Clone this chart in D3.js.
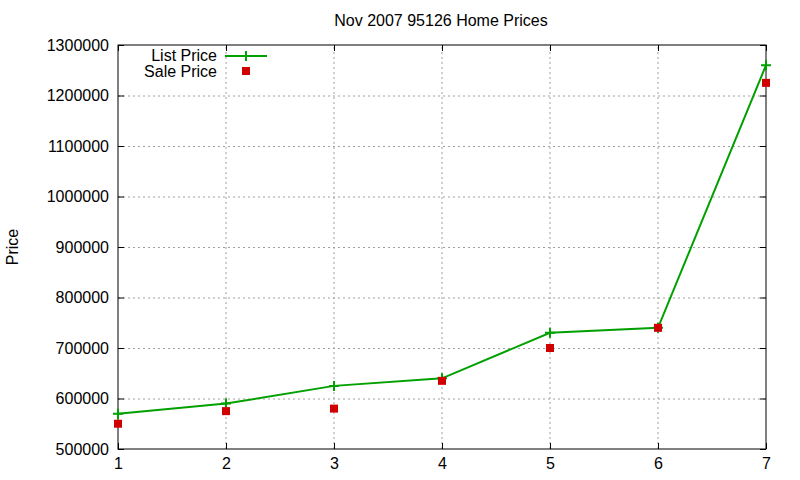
<!DOCTYPE html>
<html>
<head>
<meta charset="utf-8">
<script src="https://cdn.jsdelivr.net/npm/d3@7"></script>
<style>
  body { margin: 0; background: #fff; }
  svg text { font-family: "Liberation Sans", Arial, sans-serif; fill: #000; }
</style>
</head>
<body>
<svg id="chart" width="800" height="480"></svg>
<script>
const xValues = [1, 2, 3, 4, 5, 6, 7];
const listPrice = [570000, 590000, 625000, 640000, 730000, 740000, 1260000];
const salePrice = [550000, 575000, 580000, 635000, 700000, 740000, 1225000];
const yTicks = [500000, 600000, 700000, 800000, 900000, 1000000, 1100000, 1200000, 1300000];

let width = 800;
let height = 480;
let margin = { top: 45, right: 34, bottom: 31, left: 118 };

let svg = d3.select("#chart");

let x = d3.scaleLinear().domain([1, 7]).range([margin.left, width - margin.right]);
let y = d3.scaleLinear().domain([500000, 1300000]).range([height - margin.bottom, margin.top]);

// grid
let grid = svg.append("g");
grid.selectAll(".gx")
  .data(xValues.slice(1, -1))
  .join("line")
  .attr("x1", (d) => x(d)).attr("x2", (d) => x(d))
  .attr("y1", y(500000)).attr("y2", y(1300000))
  .style("stroke", "#a0a0a0").style("stroke-width", 1).style("stroke-dasharray", "2,3");
grid.selectAll(".gy")
  .data(yTicks.slice(1, -1))
  .join("line")
  .attr("x1", x(1)).attr("x2", x(7))
  .attr("y1", (d) => y(d) + 0.5).attr("y2", (d) => y(d) + 0.5)
  .style("stroke", "#a0a0a0").style("stroke-width", 1).style("stroke-dasharray", "2,3");

// axes (ticks inward, mirrored)
let tickLen = 6;
let axisLeft = svg.append("g")
  .attr("transform", `translate(${margin.left},0)`)
  .call(d3.axisLeft(y).tickValues(yTicks).tickFormat(d3.format("d")).tickSize(-tickLen).tickPadding(9));
let axisRight = svg.append("g")
  .attr("transform", `translate(${width - margin.right},0)`)
  .call(d3.axisRight(y).tickValues(yTicks).tickSize(-tickLen).tickFormat(""));
let axisBottom = svg.append("g")
  .attr("transform", `translate(0,${height - margin.bottom})`)
  .call(d3.axisBottom(x).tickValues(xValues).tickFormat(d3.format("d")).tickSize(-tickLen).tickPadding(9));
let axisTop = svg.append("g")
  .attr("transform", `translate(0,${margin.top})`)
  .call(d3.axisTop(x).tickValues(xValues).tickSize(-tickLen).tickFormat(""));

[axisLeft, axisRight, axisBottom, axisTop].forEach((a) => {
  a.attr("font-size", null).attr("font-family", null);
  a.select(".domain").remove();
  a.selectAll("line").style("stroke", "#000");
  a.selectAll("text").style("font-size", "16px");
});

svg.append("rect")
  .attr("x", margin.left).attr("y", margin.top)
  .attr("width", width - margin.left - margin.right)
  .attr("height", height - margin.top - margin.bottom)
  .style("fill", "none").style("stroke", "#000").style("stroke-width", 1);

// title and y label
svg.append("text")
  .attr("x", 441).attr("y", 26)
  .attr("text-anchor", "middle")
  .style("font-size", "16px")
  .text("Nov 2007 95126 Home Prices");

svg.append("text")
  .attr("transform", "translate(18,247) rotate(-90)")
  .attr("text-anchor", "middle")
  .style("font-size", "16px")
  .text("Price");

// list price line
let green = "#00a000";
let red = "#d00000";
let line = d3.line().x((d, i) => x(xValues[i])).y((d) => y(d));
svg.append("path")
  .datum(listPrice)
  .attr("d", line)
  .style("fill", "none").style("stroke", green).style("stroke-width", 2);

function plus(g, cx, cy) {
  g.append("path")
    .attr("d", `M${cx - 5},${cy}H${cx + 5}M${cx},${cy - 5}V${cy + 5}`)
    .style("stroke", green).style("stroke-width", 2);
}
let marks = svg.append("g");
listPrice.forEach((d, i) => plus(marks, x(xValues[i]), y(d)));

svg.append("g")
  .selectAll("rect")
  .data(salePrice)
  .join("rect")
  .attr("x", (d, i) => x(xValues[i]) - 4)
  .attr("y", (d) => y(d) - 4)
  .attr("width", 8).attr("height", 8)
  .style("fill", red);

// legend
let legend = svg.append("g");
legend.append("text").attr("x", 217).attr("y", 61).attr("text-anchor", "end")
  .style("font-size", "16px").text("List Price");
legend.append("text").attr("x", 217).attr("y", 77).attr("text-anchor", "end")
  .style("font-size", "16px").text("Sale Price");
legend.append("line").attr("x1", 225).attr("x2", 267).attr("y1", 56).attr("y2", 56)
  .style("stroke", green).style("stroke-width", 2);
plus(legend, 246, 56);
legend.append("rect").attr("x", 242).attr("y", 67).attr("width", 8).attr("height", 8).style("fill", red);
</script>
</body>
</html>
